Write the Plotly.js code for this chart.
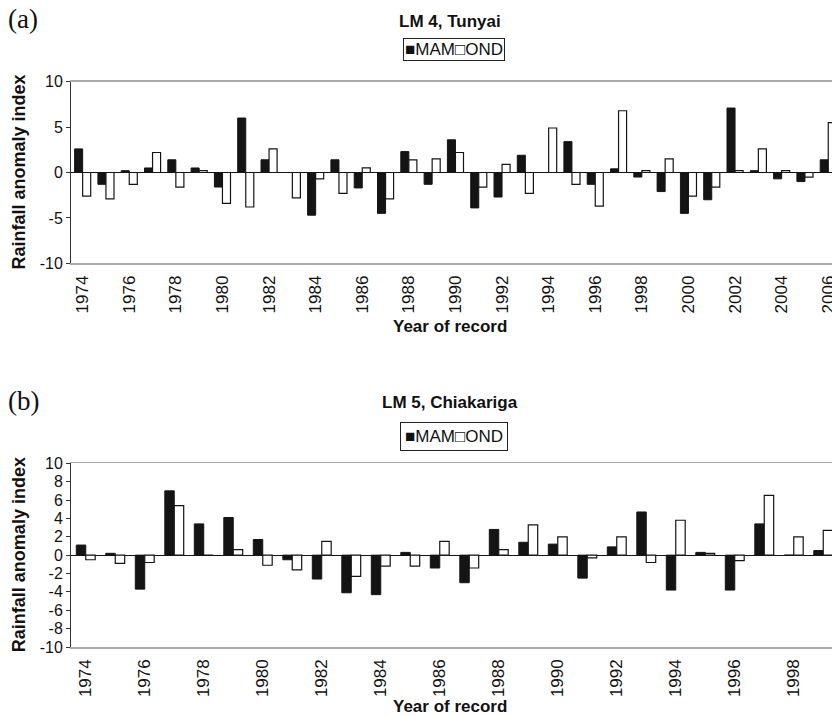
<!DOCTYPE html>
<html>
<head>
<meta charset="utf-8">
<script src="https://cdn.plot.ly/plotly-3.0.1.min.js"></script>
<style>
  html, body { margin: 0; padding: 0; background: #ffffff; }
  #chart { width: 832px; height: 716px; }
</style>
</head>
<body>
<div id="chart"></div>
<script>
// Seasonal rainfall anomaly index, long-rains (MAM) and short-rains (OND)

// Panel (a): LM 4, Tunyai
const years4 = [1974, 1975, 1976, 1977, 1978, 1979, 1980, 1981, 1982, 1983, 1984,
                1985, 1986, 1987, 1988, 1989, 1990, 1991, 1992, 1993, 1994, 1995,
                1996, 1997, 1998, 1999, 2000, 2001, 2002, 2003, 2004, 2005, 2006];
const mam4 = [2.6, -1.3, 0.2, 0.5, 1.4, 0.5, -1.6, 6.0, 1.4, 0.0, -4.7,
              1.4, -1.7, -4.5, 2.3, -1.3, 3.6, -3.9, -2.7, 1.9, 0.0, 3.4,
              -1.3, 0.4, -0.5, -2.1, -4.5, -3.0, 7.1, 0.2, -0.7, -1.0, 1.4];
const ond4 = [-2.6, -2.9, -1.3, 2.2, -1.6, 0.2, -3.4, -3.8, 2.6, -2.8, -0.7,
              -2.3, 0.5, -2.9, 1.4, 1.5, 2.2, -1.6, 0.9, -2.3, 4.9, -1.3,
              -3.7, 6.8, 0.2, 1.5, -2.6, -1.6, 0.2, 2.6, 0.2, -0.5, 5.5];
const xTicks4 = [1974, 1976, 1978, 1980, 1982, 1984, 1986, 1988, 1990,
                 1992, 1994, 1996, 1998, 2000, 2002, 2004, 2006];
const yTicks4 = [-10, -5, 0, 5, 10];

// Panel (b): LM 5, Chiakariga
const years5 = [1974, 1975, 1976, 1977, 1978, 1979, 1980, 1981, 1982, 1983, 1984,
                1985, 1986, 1987, 1988, 1989, 1990, 1991, 1992, 1993, 1994, 1995,
                1996, 1997, 1998, 1999];
const mam5 = [1.1, 0.2, -3.7, 7.0, 3.4, 4.1, 1.7, -0.5, -2.6, -4.1, -4.3,
              0.3, -1.4, -3.0, 2.8, 1.4, 1.2, -2.5, 0.9, 4.7, -3.8, 0.3,
              -3.8, 3.4, 0.0, 0.5];
const ond5 = [-0.5, -0.9, -0.8, 5.4, 0.0, 0.6, -1.1, -1.6, 1.5, -2.3, -1.2,
              -1.2, 1.5, -1.4, 0.6, 3.3, 2.0, -0.3, 2.0, -0.8, 3.8, 0.2,
              -0.6, 6.5, 2.0, 2.7];
const xTicks5 = [1974, 1976, 1978, 1980, 1982, 1984, 1986, 1988, 1990,
                 1992, 1994, 1996, 1998];
const yTicks5 = [-10, -8, -6, -4, -2, 0, 2, 4, 6, 8, 10];

const seriesNames = ['MAM', 'OND'];

// ---- geometry (paper coordinates, figure is 832 x 716 px) ----
const W = 832, H = 716;
const px = v => v / W;
const py = v => 1 - v / H;
const plotLeft = px(71);
const dom4 = [py(263.3), py(81.7)];
const dom5 = [py(647), py(463.3)];
const range4 = [1973.5, 1973.5 + (832 - 71) / 23.3];
const range5 = [1973.5, 1973.5 + (832 - 71) / 29.5];
const mid4 = (dom4[0] + dom4[1]) / 2;
const mid5 = (dom5[0] + dom5[1]) / 2;

// category boundaries for the ticks on the zero line
function boundaries(years) {
  return years.slice(0, -1).map(y => y + 0.5);
}

const INK = '#141414';
const AXIS = '#333333';
const FRAME = '#a9a9a9';
const SANS = 'Liberation Sans, Arial, sans-serif';
const NARROW = 'Liberation Sans Narrow, Arial Narrow, Liberation Sans, sans-serif';

function barPair(years, mam, ond, xa, ya, w) {
  return [
    { type: 'bar', name: seriesNames[0], x: years, y: mam, xaxis: xa, yaxis: ya,
      width: w, offset: -w, showlegend: false, hoverinfo: 'x+y+name',
      marker: { color: INK, line: { color: INK, width: 1 } } },
    { type: 'bar', name: seriesNames[1], x: years, y: ond, xaxis: xa, yaxis: ya,
      width: w, offset: 0, showlegend: false, hoverinfo: 'x+y+name',
      marker: { color: '#ffffff', line: { color: INK, width: 1.2 } } }
  ];
}

const data = [
  ...barPair(years4, mam4, ond4, 'x', 'y', 0.345),
  ...barPair(years5, mam5, ond5, 'x2', 'y2', 0.32)
];

function xMain(range, ticks, anchor) {
  return {
    domain: [plotLeft, 1], range: range, anchor: anchor,
    tickmode: 'array', tickvals: ticks, ticktext: ticks.map(String),
    tickangle: -90, ticks: '', ticklabelstandoff: 4, ticklabeloverflow: 'allow',
    tickfont: { family: SANS, size: 17, color: '#111' },
    showline: true, linecolor: FRAME, linewidth: 1.5, mirror: true,
    showgrid: false, zeroline: false, fixedrange: true
  };
}
function xZeroTicks(range, years, overlay, pos) {
  return {
    overlaying: overlay, anchor: 'free', position: pos, range: range,
    tickmode: 'array', tickvals: boundaries(years),
    ticks: 'outside', ticklen: 4, tickwidth: 1, tickcolor: AXIS,
    showticklabels: false, showline: false, showgrid: false, zeroline: false
  };
}
function yAxis(domain, ticks, anchor) {
  return {
    domain: domain, range: [-10, 10], anchor: anchor,
    tickmode: 'array', tickvals: ticks, ticktext: ticks.map(String),
    ticks: 'outside', ticklen: 4, tickwidth: 1, tickcolor: AXIS,
    tickfont: { family: SANS, size: 16, color: '#111' },
    showline: true, linecolor: AXIS, linewidth: 1,
    showgrid: false, zeroline: true, zerolinecolor: INK, zerolinewidth: 1,
    fixedrange: true
  };
}

function ann(text, x, y, font, extra) {
  return Object.assign({ text: text, xref: 'paper', yref: 'paper', x: x, y: y,
    xanchor: 'center', yanchor: 'middle', showarrow: false, font: font }, extra || {});
}
const titleFont = { family: NARROW, size: 17, color: '#111', weight: 'bold' };
const axisTitleFont = { family: SANS, size: 18, color: '#111', weight: 'bold' };
const panelFont = { family: 'Liberation Serif, Times New Roman, serif', size: 27, color: '#111' };
const keyFont = { family: SANS, size: 17, color: '#111' };
const keyText = '\u25A0' + seriesNames[0] + '\u25A1' + seriesNames[1];

const annotations = [
  ann('(a)', px(6), py(19), panelFont, { xanchor: 'left' }),
  ann('<b>LM 4, Tunyai</b>', px(450), py(21), titleFont),
  ann(keyText, px(454), py(49.5), keyFont,
      { bordercolor: '#222', borderwidth: 1, borderpad: 1 }),
  ann('<b>Year of record</b>', px(450), py(326), titleFont),
  ann('<b>Rainfall anomaly index</b>', px(19), mid4, axisTitleFont, { textangle: -90 }),

  ann('(b)', px(6), py(401), panelFont, { xanchor: 'left' }),
  ann('<b>LM 5, Chiakariga</b>', px(450), py(402), titleFont),
  ann(keyText, px(454), py(436), keyFont,
      { bordercolor: '#222', borderwidth: 1, borderpad: 4 }),
  ann('<b>Year of record</b>', px(450), py(706), titleFont),
  ann('<b>Rainfall anomaly index</b>', px(19), mid5, axisTitleFont, { textangle: -90 })
];

const layout = {
  width: W, height: H,
  margin: { l: 0, r: 0, t: 0, b: 0, pad: 0 },
  paper_bgcolor: '#ffffff', plot_bgcolor: '#ffffff',
  barmode: 'overlay',
  showlegend: false,
  xaxis: xMain(range4, xTicks4, 'y'),
  yaxis: yAxis(dom4, yTicks4, 'x'),
  xaxis2: xMain(range5, xTicks5, 'y2'),
  yaxis2: yAxis(dom5, yTicks5, 'x2'),
  xaxis3: xZeroTicks(range4, years4, 'x', mid4),
  xaxis4: xZeroTicks(range5, years5, 'x2', mid5),
  annotations: annotations
};

Plotly.newPlot('chart', data, layout, { displayModeBar: false, staticPlot: true });
</script>
</body>
</html>
